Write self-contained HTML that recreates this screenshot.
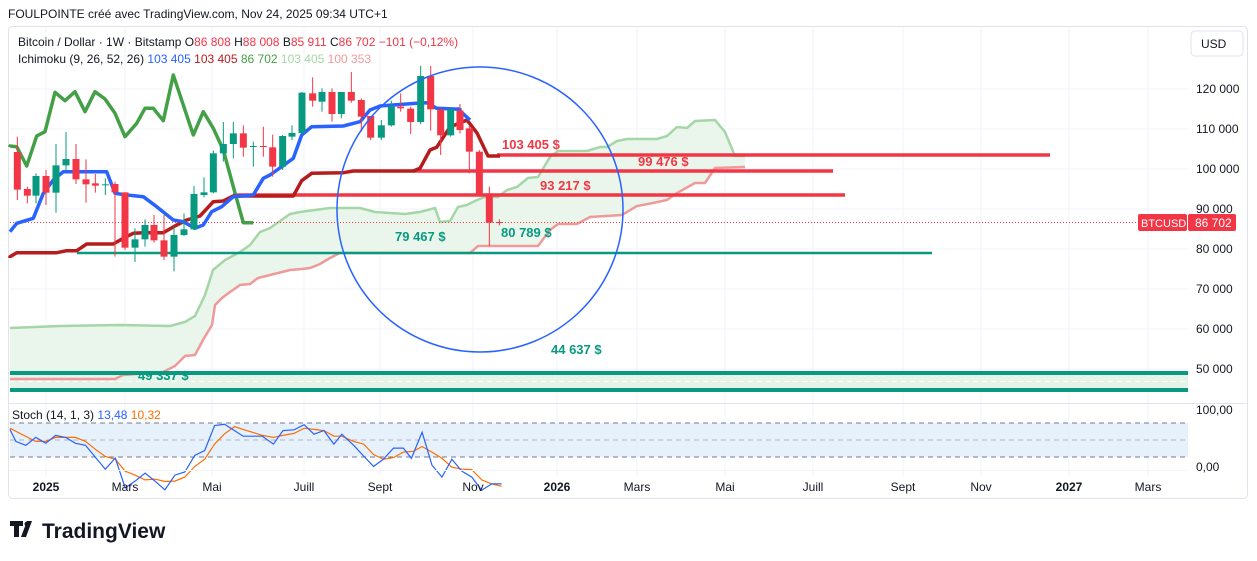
<!DOCTYPE html>
<html><head><meta charset="utf-8"><style>
body{margin:0;width:1257px;height:561px;background:#fff;overflow:hidden;font-family:"Liberation Sans",sans-serif}
svg{position:absolute;left:0;top:0}
</style></head><body>
<svg id="s" width="1257" height="561" xmlns="http://www.w3.org/2000/svg" font-family="Liberation Sans, sans-serif">
<text x="8" y="18" font-size="12" fill="#131722">FOULPOINTE créé avec TradingView.com, Nov 24, 2025 09:34 UTC+1</text>
<rect x="8.5" y="26.5" width="1239" height="472" rx="4" fill="none" stroke="#e0e3eb"/>
<g id="grid" stroke="#f0f3fa" stroke-width="1"></g>
<g id="main"></g>
<text x="18" y="46" font-size="12" fill="#131722">Bitcoin / Dollar · 1W · Bitstamp  <tspan>O</tspan><tspan fill="#f23645">86 808</tspan>  <tspan>H</tspan><tspan fill="#f23645">88 008</tspan>  <tspan>B</tspan><tspan fill="#f23645">85 911</tspan>  <tspan>C</tspan><tspan fill="#f23645">86 702  −101 (−0,12%)</tspan></text>
<text x="18" y="63" font-size="12" fill="#131722">Ichimoku (9, 26, 52, 26)  <tspan fill="#2962ff">103 405</tspan>  <tspan fill="#b71c1c">103 405</tspan>  <tspan fill="#43a047">86 702</tspan>  <tspan fill="#a5d6a7">103 405</tspan>  <tspan fill="#ef9a9a">100 353</tspan></text>
<rect x="1191" y="31" width="52" height="25" rx="4" fill="#fff" stroke="#e0e3eb"/>
<text x="1201" y="48" font-size="12" fill="#131722">USD</text>
<g font-size="12" fill="#131722">
<text x="1196" y="93">120 000</text><text x="1196" y="133">110 000</text><text x="1196" y="173">100 000</text><text x="1196" y="213">90 000</text><text x="1196" y="253">80 000</text><text x="1196" y="293">70 000</text><text x="1196" y="333">60 000</text><text x="1196" y="373">50 000</text><text x="1196" y="414">100,00</text><text x="1196" y="471">0,00</text>
</g>
<rect x="1138" y="214" width="49" height="17" rx="2" fill="#f23645"/><text x="1141" y="227" font-size="11" fill="#fff">BTCUSD</text>
<rect x="1188" y="214" width="48" height="17" rx="2" fill="#f23645"/><text x="1195" y="227" font-size="12" fill="#fff">86 702</text>
<line x1="8" y1="403.5" x2="1248" y2="403.5" stroke="#e0e3eb"/>
<text x="12" y="419" font-size="12" fill="#131722">Stoch (14, 1, 3)  <tspan fill="#2962ff">13,48</tspan>  <tspan fill="#ff6d00">10,32</tspan></text>
<g font-size="12" fill="#131722" text-anchor="middle">
<text x="46" y="491" font-weight="bold">2025</text><text x="125" y="491">Mars</text><text x="212" y="491">Mai</text><text x="304" y="491">Juill</text><text x="380" y="491">Sept</text><text x="473" y="491">Nov</text><text x="557" y="491" font-weight="bold">2026</text><text x="637" y="491">Mars</text><text x="725" y="491">Mai</text><text x="813" y="491">Juill</text><text x="903" y="491">Sept</text><text x="981" y="491">Nov</text><text x="1069" y="491" font-weight="bold">2027</text><text x="1148" y="491">Mars</text>
</g>
<g transform="translate(10,521)" fill="#131722"><path d="M0 0h13v5h-4v11h-5v-11h-4z M17 0h5l-6 16h-5z"/><circle cx="17" cy="3" r="2.5"/></g>
<text x="42" y="538" font-size="21" font-weight="bold" fill="#131722">TradingView</text>
</svg>
<script>
var NS="http://www.w3.org/2000/svg",m=document.getElementById('main'),g=document.getElementById('grid');
function el(p,t,a){var e=document.createElementNS(NS,t);for(var k in a)e.setAttribute(k,a[k]);p.appendChild(e);return e;}
function P(p){return p.map(function(q){return q[0].toFixed(1)+','+q[1].toFixed(1)}).join(' ');}
function Z2(a){return a.map(function(q){return[q[0]/3,60+q[1]/3]});}
function Z3(a){return a.map(function(q){return[q[0]/2.516,340+q[1]/2.516]});}
[89,129,169,209,249,289,329,369].forEach(function(y){el(g,'line',{x1:10,x2:1188,y1:y,y2:y});});
[46,125,212,304,380,473,557,637,725,813,903,981,1069,1148].forEach(function(x){el(g,'line',{x1:x,x2:x,y1:27,y2:476});});
el(m,'rect',{x:10,y:373,width:1178,height:17,fill:'#e6f3e8'});
var A=[[10,328],[60,326],[120,325],[170,326],[185,322],[195,316],[205,295],[213,270],[225,260],[240,252],[250,245],[260,232],[270,228],[290,214],[300,212],[330,208],[360,208],[375,212],[405,214],[420,212],[435,208],[440,222],[450,221],[458,207],[467,205],[477,200],[485,197],[498,197],[507,190],[517,187],[528,178],[538,177],[550,157],[558,151],[587,151],[600,147],[607,147],[617,141],[627,139],[657,139],[667,136],[677,127],[687,128],[695,121],[715,120],[725,132],[735,156],[745,156]];
var B=[[10,379],[115,379],[123,375],[163,372],[175,366],[185,356],[195,355],[203,340],[212,325],[215,305],[222,298],[230,292],[240,285],[250,284],[258,278],[270,275],[290,270],[302,269],[310,268],[320,264],[330,258],[340,253],[470,253],[478,246],[538,246],[550,230],[558,224],[577,224],[590,217],[622,215],[637,206],[653,203],[667,200],[677,193],[695,183],[705,183],[715,168],[745,167]];
el(m,'polygon',{points:P(A.concat(B.slice().reverse())),fill:'#e8f5e9',opacity:0.9});
el(m,'polyline',{points:P(B),fill:'none',stroke:'#ef9a9a','stroke-width':2.5});
el(m,'polyline',{points:P(A),fill:'none',stroke:'#a5d6a7','stroke-width':2.5});
el(m,'line',{x1:10,x2:1188,y1:390,y2:390,stroke:'#089981','stroke-width':4});
el(m,'line',{x1:10,x2:1188,y1:381.5,y2:381.5,stroke:'#fff','stroke-width':1,'stroke-dasharray':'5,4'});
el(m,'line',{x1:77,x2:932,y1:253,y2:253,stroke:'#089981','stroke-width':2.5});
el(m,'line',{x1:233,x2:845,y1:195,y2:195,stroke:'#f23645','stroke-width':3.5});
el(m,'line',{x1:413,x2:833,y1:171,y2:171,stroke:'#f23645','stroke-width':3.5});
el(m,'line',{x1:497,x2:1050,y1:155,y2:155,stroke:'#f23645','stroke-width':3.5});
el(m,'line',{x1:10,x2:1138,y1:222.5,y2:222.5,stroke:'#f23645','stroke-width':1,'stroke-dasharray':'1,2'});
var C=[[10,147]].concat(Z2([[30,258],[50,260],[80,318],[110,228],[135,215],[165,97],[195,122],[225,95],[255,155],[285,95],[315,117],[345,160],[375,230],[410,190],[435,145],[460,145],[490,182],[520,45],[550,135],[580,225],[610,155],[640,205],[670,270],[700,380],[730,488],[760,488]]));
el(m,'polyline',{points:P(C),fill:'none',stroke:'#43a047','stroke-width':3.5,'stroke-linejoin':'round'});
var K=[[10,258]].concat(Z2([[30,590],[50,578],[170,578],[200,572],[230,572],[260,552],[340,552],[370,535],[400,520],[430,518],[490,518],[530,495],[560,480],[600,468],[640,425],[670,423],[700,408],[880,408],[905,362],[935,340],[1030,338],[1060,333],[1240,333],[1260,325],[1290,270],[1310,262]]),[[450,127],[467,120],[477,133],[488,156],[500,156]]);
el(m,'polyline',{points:P(K),fill:'none',stroke:'#b71c1c','stroke-width':3.5,'stroke-linejoin':'round'});
var T=Z2([[30,515],[50,490],[100,475],[130,400],[160,360],[190,335],[320,335],[345,400],[380,405],[430,410],[470,440],[520,480],[550,485],[585,505],[610,495],[635,455],[665,440],[700,410],[760,405],[790,355],[810,345],[845,320],[880,295],[905,225],[935,200],[1030,198],[1080,185],[1110,150],[1140,138],[1250,130],[1280,128],[1310,145],[1380,148]]).concat([[458,109],[470,120]]);
el(m,'polyline',{points:P(T),fill:'none',stroke:'#2962ff','stroke-width':3.5,'stroke-linejoin':'round'});
var cd=[[52,276,389,0,230,420],[82,387,407,0,380,430],[108,348,407,1,340,430],[138,348,398,0,330,435],[168,316,398,1,252,458],[198,297,316,1,216,333],[228,297,358,0,252,372],[258,358,373,0,298,428],[286,370,377,0,342,398],[316,373,376,1,355,405],[345,372,397,0,365,590],[375,397,563,0,397,570],[405,538,563,1,505,606],[435,495,538,1,478,560],[462,495,541,0,465,548],[492,541,590,0,465,600],[522,525,590,1,500,634],[552,508,525,1,460,528],[582,402,508,1,378,510],[612,397,405,1,352,412],[640,280,397,1,272,400],[670,252,280,1,186,305],[700,220,252,1,186,295],[730,220,263,0,196,290],[760,258,261,1,245,320],[790,258,261,0,200,290],[818,262,320,0,224,350],[848,228,320,1,225,330],[876,219,230,1,196,240],[906,98,219,1,96,222],[938,100,122,0,52,140],[966,96,125,1,85,155],[996,96,162,0,85,185],[1024,96,162,1,96,175],[1054,96,122,0,36,128],[1084,120,170,0,115,215],[1112,168,233,0,168,240],[1144,196,233,1,180,240],[1174,140,196,1,122,200],[1202,140,145,0,100,155],[1232,146,186,0,140,222],[1262,48,186,1,18,193],[1292,48,148,0,18,212],[1322,148,226,0,148,285],[1352,148,226,1,144,230],[1380,152,210,0,132,220],[1408,205,275,0,195,340],[1438,275,405,0,270,410],[1468,400,488,0,380,558],[1498,486,489,0,478,496]];
cd.forEach(function(c){var x=c[0]/3,col=c[3]?'#089981':'#f23645';
el(m,'line',{x1:x,x2:x,y1:60+c[4]/3,y2:60+c[5]/3,stroke:col,'stroke-width':1});
el(m,'rect',{x:x-3.5,y:60+c[1]/3,width:7,height:Math.max(1,(c[2]-c[1])/3),fill:col});});
el(m,'ellipse',{cx:480,cy:209.5,rx:143,ry:142.5,fill:'none',stroke:'#2962ff','stroke-width':1.5});
function tx(x,y,s,c){var e=el(m,'text',{x:x,y:y,'font-size':13,'font-weight':'bold',fill:c});e.textContent=s;}
tx(502,149,'103 405 $','#f23645');tx(638,166,'99 476 $','#f23645');tx(540,190,'93 217 $','#f23645');
tx(395,241,'79 467 $','#089981');tx(501,237,'80 789 $','#089981');tx(551,354,'44 637 $','#089981');tx(138,380,'49 337 $','#089981');
el(m,'line',{x1:10,x2:1188,y1:373,y2:373,stroke:'#089981','stroke-width':4});
el(m,'rect',{x:10,y:423,width:1178,height:34,fill:'#e3f0fc',opacity:0.9});
[423,440,457].forEach(function(y,i){el(m,'line',{x1:10,x2:1188,y1:y,y2:y,stroke:i==1?'#b2b5be':'#787b86','stroke-width':1,'stroke-dasharray':'5,4'});});
var SK=Z3([[25,225],[40,255],[65,265],[90,245],[115,260],[140,240],[165,245],[190,260],[215,265],[240,295],[265,325],[290,297],[315,372],[340,355],[365,335],[390,355],[415,377],[440,340],[465,332],[490,290],[515,278],[540,215],[565,212],[590,228],[612,242],[660,242],[688,262],[712,228],[740,226],[765,213],[790,237],[815,228],[840,262],[860,237],[890,265],[915,292],[940,318],[965,300],[990,272],[1015,272],[1035,298],[1062,232],[1087,315],[1112,345],[1137,300],[1162,330],[1187,345],[1212,378],[1237,362],[1262,362]]);
var SD=Z3([[25,222],[60,240],[90,255],[115,255],[140,245],[165,245],[190,245],[215,255],[240,275],[265,293],[290,300],[315,330],[340,340],[365,352],[390,350],[415,356],[440,355],[465,345],[490,318],[515,300],[540,262],[565,236],[590,218],[612,225],[660,240],[688,245],[712,240],[740,235],[765,222],[790,225],[815,228],[840,242],[860,242],[890,255],[915,262],[940,288],[965,300],[990,296],[1015,282],[1040,280],[1062,268],[1087,282],[1112,298],[1137,320],[1162,325],[1187,326],[1212,352],[1237,362],[1262,368]]);
el(m,'polyline',{points:P(SD),fill:'none',stroke:'#ff6d00','stroke-width':1.2});
el(m,'polyline',{points:P(SK),fill:'none',stroke:'#2962ff','stroke-width':1.2});
el(m,'line',{x1:10,x2:1188,y1:470.5,y2:470.5,stroke:'#f0f3fa'});
</script>
</body></html>
